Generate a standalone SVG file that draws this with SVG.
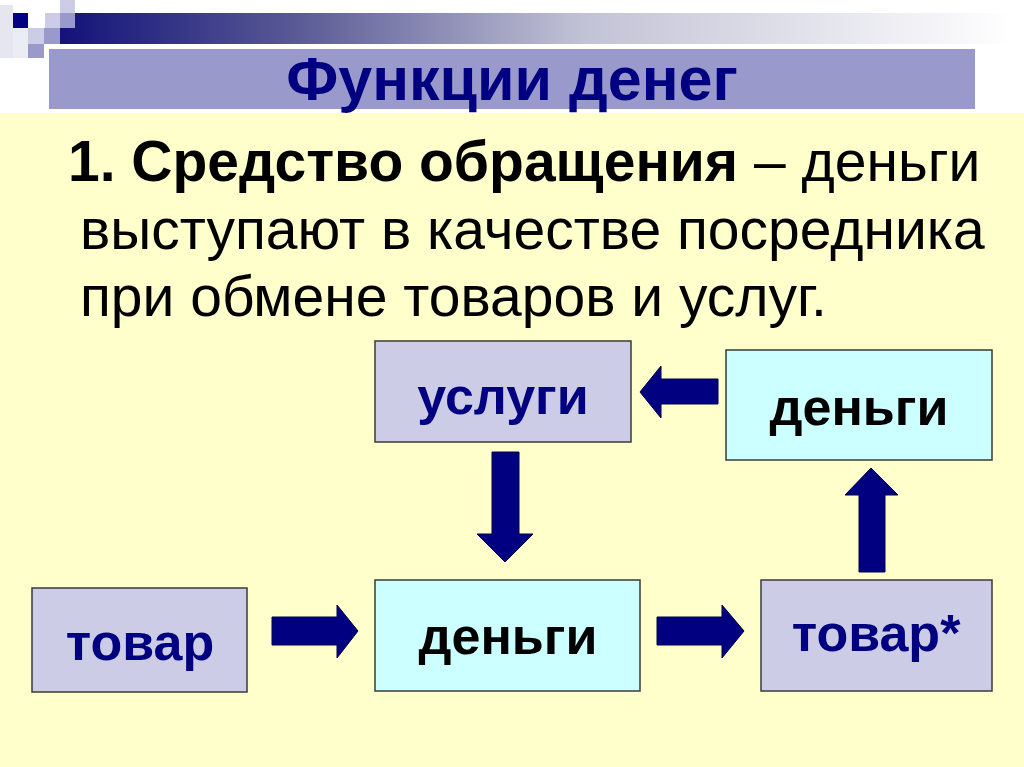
<svg xmlns="http://www.w3.org/2000/svg" width="1024" height="767" viewBox="0 0 1024 767">
<defs>
<linearGradient id="bar" x1="0" y1="0" x2="1" y2="0">
<stop offset="0" stop-color="#12127a"/>
<stop offset="0.25" stop-color="#5a5a96"/>
<stop offset="0.55" stop-color="#c2c2d6"/>
<stop offset="1" stop-color="#ffffff"/>
</linearGradient>
<style>
.box{stroke:#3a3a3a;stroke-width:1.5}
.lav{fill:#ccccE6}
.cyan{fill:#ccffff}
.lbl{font-family:"Liberation Sans",Arial,sans-serif;font-weight:bold;font-size:52px;text-anchor:middle}
.navy{fill:#000080}
.blk{fill:#000000}
.arrow{fill:#000080;stroke:#00004a;stroke-width:1}
.para{font-family:"Liberation Sans",Arial,sans-serif;font-size:57px;fill:#000000}
</style>
</defs>
<rect x="0" y="0" width="1024" height="767" fill="#ffffff"/>
<rect x="0" y="113" width="1024" height="654" fill="#ffffcc"/>
<g id="decoration">
<rect x="0" y="5" width="13" height="53" fill="#e6e6f0"/>
<rect x="13" y="28" width="15" height="30" fill="#ececf4"/>
<rect x="13" y="13" width="15" height="15" fill="#000080"/>
<rect x="45" y="13" width="15" height="15" fill="#ccccE6"/>
<rect x="60" y="0" width="15" height="13" fill="#ccccE6"/>
<rect x="60" y="13" width="952" height="31" fill="url(#bar)"/>
<rect x="60" y="13" width="15" height="15" fill="#9999cc"/>
<rect x="28" y="28" width="16" height="16" fill="#ccccE6"/>
<rect x="44" y="28" width="16" height="16" fill="#9999cc"/>
<rect x="28" y="44" width="16" height="14" fill="#9999cc"/>
</g>
<g id="title">
<rect x="49" y="49" width="926" height="60" fill="#9999cc"/>
<text x="512" y="100" font-family="'Liberation Sans',Arial,sans-serif" font-weight="bold" font-size="61" fill="#000080" text-anchor="middle">Функции денег</text>
</g>
<g id="paragraph" class="para">
<text x="68" y="181"><tspan font-weight="bold">1. Средство обращения</tspan> – деньги</text>
<text x="80" y="249">выступают в качестве посредника</text>
<text x="80" y="316">при обмене товаров и услуг.</text>
</g>
<g id="connectors">
<polygon class="arrow" points="718,379 661,379 661,366 640,392 661,418 661,404 718,404"/>
<polygon class="arrow" points="492,452 519,452 519,534 533,534 505,562 477,534 492,534"/>
<polygon class="arrow" points="272,617 337,617 337,605 358,631 337,658 337,645 272,645"/>
<polygon class="arrow" points="657,617 722,617 722,605 744,631 722,658 722,645 657,645"/>
<polygon class="arrow" points="859,572 885,572 885,495 898,495 871,468 845,495 859,495"/>
</g>
<g id="node-uslugi">
<rect class="box lav" x="375" y="341" width="256" height="101"/>
<text class="lbl navy" x="503" y="414">услуги</text>
</g>
<g id="node-dengi-top">
<rect class="box cyan" x="726" y="350" width="266" height="110"/>
<text class="lbl blk" x="859" y="425">деньги</text>
</g>
<g id="node-tovar">
<rect class="box lav" x="32" y="588" width="215" height="104"/>
<text class="lbl navy" x="140" y="660">товар</text>
</g>
<g id="node-dengi">
<rect class="box cyan" x="375" y="580" width="265" height="111"/>
<text class="lbl blk" x="508" y="654">деньги</text>
</g>
<g id="node-tovar2">
<rect class="box lav" x="761" y="580" width="231" height="111"/>
<text class="lbl navy" x="876" y="651">товар*</text>
</g>
</svg>
